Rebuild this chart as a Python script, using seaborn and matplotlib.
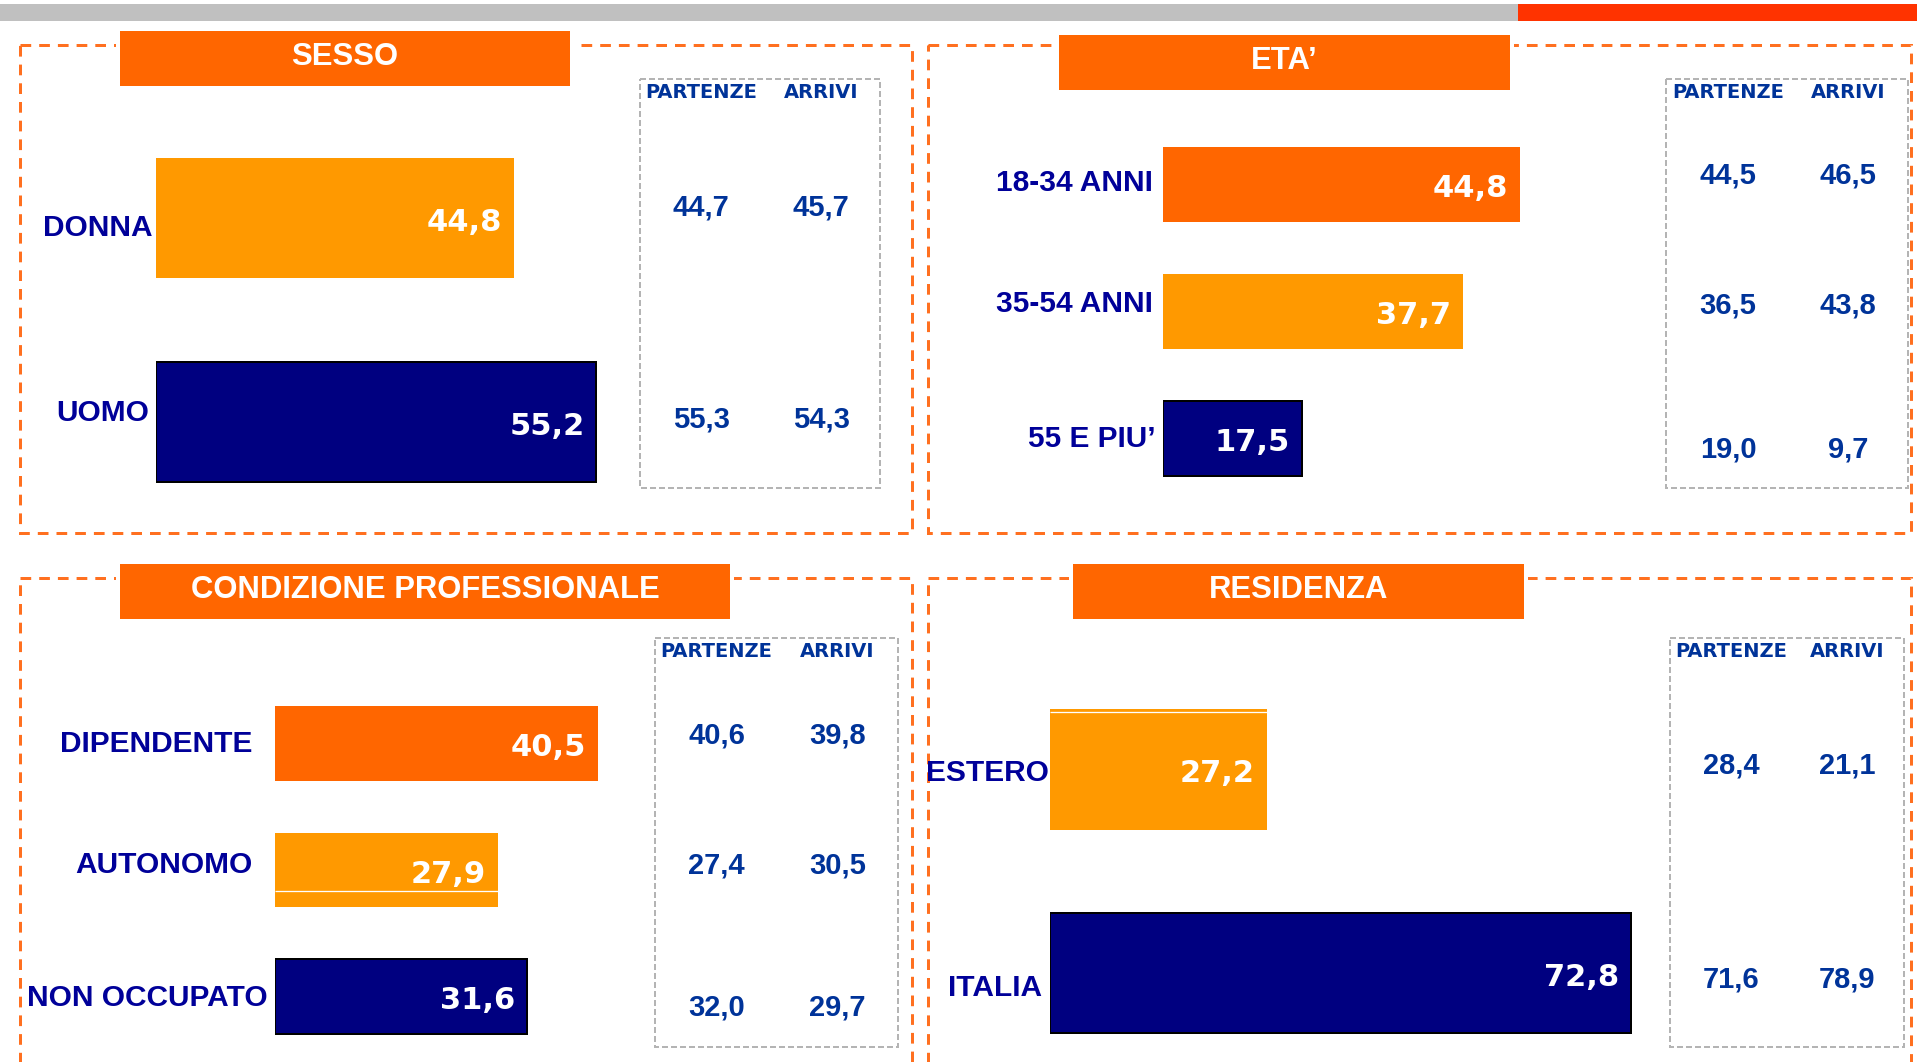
"""Profilo dei viaggiatori: sesso, eta', condizione professionale, residenza.

Four panels of horizontal bars with a small PARTENZE / ARRIVI table beside each.
"""
import matplotlib
matplotlib.use("Agg")
import matplotlib.pyplot as plt
from matplotlib.patches import Rectangle
import seaborn as sns

# ---------------------------------------------------------------- data
sesso_labels = ["DONNA", "UOMO"]
sesso_values = [44.8, 55.2]
sesso_partenze = [44.7, 55.3]
sesso_arrivi = [45.7, 54.3]

eta_labels = ["18-34 ANNI", "35-54 ANNI", "55 E PIU\u2019"]
eta_values = [44.8, 37.7, 17.5]
eta_partenze = [44.5, 36.5, 19.0]
eta_arrivi = [46.5, 43.8, 9.7]

cond_labels = ["DIPENDENTE", "AUTONOMO", "NON OCCUPATO"]
cond_values = [40.5, 27.9, 31.6]
cond_partenze = [40.6, 27.4, 32.0]
cond_arrivi = [39.8, 30.5, 29.7]

res_labels = ["ESTERO", "ITALIA"]
res_values = [27.2, 72.8]
res_partenze = [28.4, 71.6]
res_arrivi = [21.1, 78.9]

table_headers = ["PARTENZE", "ARRIVI"]

# ---------------------------------------------------------------- style
W, H = 1917, 1062
PX = 0.72            # points per pixel at dpi 100
PX_PER_UNIT = 7.98   # bar length scale

DARK_ORANGE = "#FF6600"
ORANGE = "#FF9900"
NAVY = "#000080"
LABEL_COL = "#000099"
TABLE_COL = "#003399"
DASH_ORANGE = "#FF7020"
DASH_GRAY = "#B4B4B4"

FONT = "Liberation Sans"
WIDE = "DejaVu Sans"   # wider glyphs stand in for the letter-spaced numbers

sns.set_style("white")
plt.rcParams["font.family"] = [FONT, "DejaVu Sans"]
plt.rcParams["lines.scale_dashes"] = False


def fmt(v):
    return f"{v:.1f}".replace(".", ",")


# layout of the four panels (pixels, y downwards)
panels = [
    dict(title="SESSO", labels=sesso_labels, values=sesso_values,
         partenze=sesso_partenze, arrivi=sesso_arrivi,
         colors=[ORANGE, NAVY],
         frame=(20, 45, 912, 533), title_box=(120, 31, 570, 86),
         bar_left=156, first_center=218, spacing=204,
         label_gap=[3, 7], label_dy=[7, -12],
         table=(640, 79, 880, 488), col_dx=(61, 181), row_base=[215, 428],
         seams={}),
    dict(title="ETA\u2019", labels=eta_labels, values=eta_values,
         partenze=eta_partenze, arrivi=eta_arrivi,
         colors=[DARK_ORANGE, ORANGE, NAVY],
         frame=(928, 45, 1911, 533), title_box=(1059, 35, 1510, 90),
         bar_left=1162.5, first_center=184.5, spacing=127,
         label_gap=[10, 10, 7], label_dy=[-4.3, -10, -2],
         table=(1666, 79, 1908, 488), col_dx=(62, 182), row_base=[184, 313, 457],
         seams={}),
    dict(title="CONDIZIONE PROFESSIONALE", labels=cond_labels, values=cond_values,
         partenze=cond_partenze, arrivi=cond_arrivi,
         colors=[DARK_ORANGE, ORANGE, NAVY],
         frame=(20, 578, 912, 1100), title_box=(120, 564, 730, 619),
         bar_left=275, first_center=743.5, spacing=126.6,
         label_gap=[23, 23, 7], label_dy=[-2.1, -7.5, -1.2],
         table=(655, 637.5, 898, 1046.7), col_dx=(61.5, 182.5),
         row_base=[743, 873, 1016],
         seams={1: 0.78}),
    dict(title="RESIDENZA", labels=res_labels, values=res_values,
         partenze=res_partenze, arrivi=res_arrivi,
         colors=[ORANGE, NAVY],
         frame=(928, 578, 1911, 1100), title_box=(1073, 564, 1524, 619),
         bar_left=1050, first_center=769.5, spacing=203.5,
         label_gap=[1.5, 7.5], label_dy=[1, 12.5],
         table=(1670, 637.5, 1904, 1046.7), col_dx=(61, 177), row_base=[773, 988],
         seams={0: 0.022}),
]

fig = plt.figure(figsize=(W / 100, H / 100), dpi=100)

# background axes in pixel coordinates for frames, title boxes and tables
bg = fig.add_axes([0, 0, 1, 1])
bg.set_xlim(0, W)
bg.set_ylim(H, 0)
bg.axis("off")

# top strip
bg.add_patch(Rectangle((0, 4), 1518, 17, color="#C0C0C0", lw=0))
bg.add_patch(Rectangle((1518, 4), W - 1518, 17, color="#FF3300", lw=0))

for p in panels:
    x0, y0, x1, y1 = p["frame"]
    bg.add_patch(Rectangle((x0, y0), x1 - x0, y1 - y0, fill=False,
                           edgecolor=DASH_ORANGE, lw=3 * PX,
                           linestyle=(0, (10.7 * PX, 8 * PX))))

    # title box
    tx0, ty0, tx1, ty1 = p["title_box"]
    bg.add_patch(Rectangle((tx0 - 4, ty0 - 4), tx1 - tx0 + 8, ty1 - ty0 + 8,
                           color="white", lw=0))
    bg.add_patch(Rectangle((tx0, ty0), tx1 - tx0, ty1 - ty0,
                           color=DARK_ORANGE, lw=0))
    bg.text((tx0 + tx1) / 2, ty0 + 34, p["title"], ha="center", va="baseline",
            color="white", fontsize=22.3, fontweight="bold", family=FONT)

    # side table
    bx0, by0, bx1, by1 = p["table"]
    bg.add_patch(Rectangle((bx0, by0), bx1 - bx0, by1 - by0, fill=False,
                           edgecolor=DASH_GRAY, lw=2 * PX,
                           linestyle=(0, (6 * PX, 3 * PX))))
    for dx, head, col in zip(p["col_dx"], table_headers,
                             [p["partenze"], p["arrivi"]]):
        bg.text(bx0 + dx, by0 + 19.5, head, ha="center", va="baseline",
                color=TABLE_COL, fontsize=14, fontweight="bold", family=WIDE)
        for yb, v in zip(p["row_base"], col):
            bg.text(bx0 + dx, yb, fmt(v), ha="center", va="baseline",
                    color=TABLE_COL, fontsize=21, fontweight="bold", family=FONT)

    # bar axes
    n = len(p["labels"])
    top = p["first_center"] - p["spacing"] / 2
    height = n * p["spacing"]
    width = bx0 - p["bar_left"] - 12
    ax = fig.add_axes([p["bar_left"] / W, 1 - (top + height) / H,
                       width / W, height / H])
    ax.patch.set_alpha(0)
    sns.barplot(x=p["values"], y=p["labels"], hue=p["labels"],
                order=p["labels"], hue_order=p["labels"],
                palette=p["colors"], orient="h", width=0.59, saturation=1,
                dodge=False, legend=False, ax=ax)
    ax.set_xlim(0, width / PX_PER_UNIT)
    ax.set_ylim(n - 0.5, -0.5)
    ax.axis("off")

    bars = sorted(ax.patches, key=lambda b: b.get_y())
    for i, b in enumerate(bars):
        b.set_linewidth(0)
        if p["colors"][i] == NAVY:
            b.set_edgecolor("black")
            b.set_linewidth(2 * PX)
        if i in p["seams"]:
            ys = b.get_y() + p["seams"][i] * b.get_height()
            ax.hlines(ys, b.get_x(), b.get_x() + b.get_width(),
                      color="white", lw=1.3 * PX)

    cap_val = 22.3
    cap_lab = 21.4
    for i, (lab, v) in enumerate(zip(p["labels"], p["values"])):
        # value inside the bar
        ax.annotate(fmt(v), xy=(v, i), xytext=(-12 * PX, -(1.5 + cap_val / 2) * PX),
                    textcoords="offset points", ha="right", va="baseline",
                    color="white", fontsize=22, fontweight="bold", family=WIDE,
                    annotation_clip=False)
        # category label to the left
        ax.annotate(lab, xy=(0, i),
                    xytext=(-p["label_gap"][i] * PX,
                            -(p["label_dy"][i] + cap_lab / 2) * PX),
                    textcoords="offset points", ha="right", va="baseline",
                    color=LABEL_COL, fontsize=21.5, fontweight="bold", family=FONT,
                    annotation_clip=False)

fig.savefig("out.png", dpi=100)
plt.close(fig)
